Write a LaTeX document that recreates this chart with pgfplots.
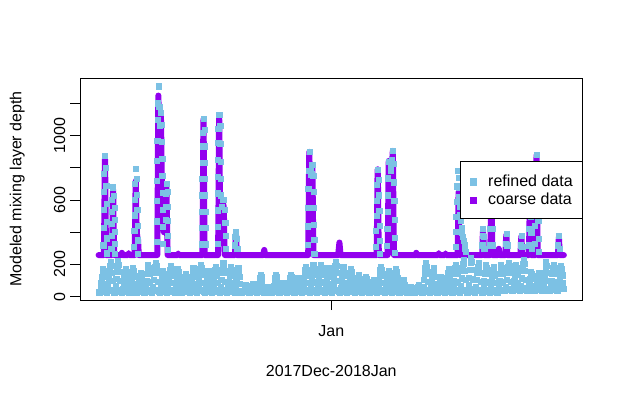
\documentclass[border=0pt]{standalone}
\usepackage{pgfplots}
\pgfplotsset{compat=1.18}
\usepackage{pgfplotstable}
\usepackage{fontspec}
\setmainfont{Liberation Sans}
\definecolor{rblue}{RGB}{124,193,228}
\definecolor{cpurple}{RGB}{146,0,238}

% refined data: one row per day, values at 0h,2h,...,22h
\pgfplotstableread{
day v0 v1 v2 v3 v4 v5 v6 v7 v8 v9 v10 v11
0 30 25 33 53 88 123 154 175 158 123 79 40
1 32 26 35 65 108 151 189 215 194 151 97 42
2 30 25 34 66 110 154 194 220 198 154 99 40
3 29 25 33 51 85 119 150 170 153 119 77 38
4 30 26 34 54 90 126 158 180 162 126 81 40
5 28 25 32 45 75 105 132 150 135 105 68 38
6 30 25 33 60 100 140 176 200 180 140 90 41
7 31 26 35 63 105 147 185 210 189 147 95 42
8 29 25 33 48 80 112 141 160 144 112 72 38
9 30 25 34 57 95 133 167 190 171 133 86 40
10 29 25 33 51 85 119 150 170 153 119 77 38
11 28 24 32 42 70 98 123 140 126 98 63 36
12 30 25 33 54 90 126 158 180 162 126 81 40
13 31 26 35 59 98 137 172 195 176 137 88 41
14 29 25 33 48 80 112 141 160 144 112 72 38
15 30 25 34 56 93 130 164 186 167 130 84 40
16 32 26 35 63 105 147 185 210 189 147 95 42
17 30 25 34 56 93 130 163 185 167 130 83 40
18 30 25 33 54 90 126 158 180 162 126 81 38
19 28 24 30 30 36 50 63 72 65 50 32 30
20 28 24 30 30 40 56 70 80 72 56 36 32
21 29 25 32 40 67 94 118 134 121 94 60 35
22 27 24 28 28 32 43 54 61 55 43 30 28
23 29 25 32 40 67 94 118 134 121 94 60 35
24 28 24 30 30 42 59 74 84 76 59 38 32
25 29 25 32 40 67 94 118 134 121 94 60 35
26 28 25 31 35 58 81 101 115 104 81 52 34
27 30 25 34 56 93 130 164 186 167 130 84 40
28 31 26 34 59 99 138 173 197 177 138 89 41
29 31 26 34 59 99 138 173 197 177 138 89 41
30 30 25 33 53 88 123 155 176 158 123 79 40
31 32 26 35 65 108 151 189 215 194 151 97 42
32 30 25 34 56 93 130 163 185 167 130 83 40
33 29 25 33 51 85 119 150 170 153 119 77 38
34 29 25 32 41 68 95 119 135 122 95 61 36
35 28 25 32 38 63 88 110 125 113 88 56 35
36 28 24 31 31 52 72 91 103 93 72 46 33
37 30 25 34 56 93 130 164 186 167 130 84 40
38 29 25 33 48 80 112 141 160 144 112 72 38
39 29 25 33 51 85 119 150 170 153 119 77 38
40 28 24 31 31 52 72 91 103 93 72 46 33
41 27 24 28 28 32 43 54 61 55 43 30 28
42 28 24 30 30 36 50 63 72 65 50 32 30
43 31 26 35 62 104 145 182 207 186 145 93 42
44 30 25 33 53 88 123 155 176 158 123 79 40
45 28 25 32 37 62 87 109 124 112 87 56 35
46 29 25 33 51 85 119 150 170 153 119 77 38
47 30 25 34 60 100 140 176 200 180 140 90 41
48 33 27 36 68 114 160 201 228 205 160 103 44
49 34 28 38 72 120 168 211 240 216 168 108 46
50 32 26 35 63 105 147 185 210 189 147 95 42
51 30 25 34 60 100 140 176 200 180 140 90 41
52 30 25 34 56 93 130 164 186 167 130 84 40
53 30 25 34 60 100 140 176 200 180 140 90 44
54 40 35 43 63 105 147 185 210 189 147 95 50
55 40 35 43 59 98 137 172 195 176 137 88 50
56 42 36 45 68 114 160 201 228 205 160 103 52
57 40 35 43 47 78 109 136 155 140 109 70 48
58 40 35 43 45 75 105 132 150 135 105 68 48
59 41 35 44 65 108 151 189 215 194 151 97 50
60 40 35 43 60 100 140 176 200 180 140 90 50
61 40 35 43 57 95 133 167 190 171 133 86 48
}\refined

\begin{document}
\begin{tikzpicture}[font=\fontsize{16}{19.2}\selectfont]
\path[use as bounding box] (0pt,0pt) rectangle (623pt,399pt);
\begin{axis}[
  at={(80pt,99pt)}, anchor=south west,
  width=502.5pt, height=222pt, scale only axis,
  xmin=-2.478, xmax=64.44, ymin=-21, ymax=1358,
  xtick={31}, xticklabels={Jan},
  ytick={0,200,400,600,800,1000,1200},
  yticklabels={0,200,{},600,{},1000,{}},
  tick pos=left, tick align=outside, major tick length=10pt,
  every tick/.style={black, line width=0.8pt},
  axis line style={line width=0.8pt},
  ticklabel style={font=\fontsize{16}{19.2}\selectfont},
  xticklabel style={anchor=base, yshift=-26.7pt},
  yticklabel style={xshift=-5pt, rotate=90, anchor=base},
  every axis x label/.style={at={(axis description cs:0.5,0)}, yshift=-76pt, anchor=base},
  every axis y label/.style={at={(axis description cs:0,0.5)}, xshift=-58.5pt, rotate=90, anchor=base},
  xlabel={2017Dec-2018Jan},
  ylabel={Modeled mixing layer depth},
  legend style={at={(1,0.6275)}, anchor=north east, draw=black, line width=0.8pt, fill=white,
    font=\fontsize{16}{19.2}\selectfont, inner xsep=9.4pt, inner ysep=13.7pt,
    row sep=6.6pt, column sep=11pt, cells={anchor=base west},
    nodes={inner sep=0pt, text height=11.7pt, text depth=0pt}},
]
\addlegendimage{legend image code/.code={\fill[rblue] (0pt,1pt) rectangle (6.7pt,7.7pt);}}
\addlegendentry{refined data}
\addlegendimage{legend image code/.code={\fill[cpurple] (0pt,1pt) rectangle (6.7pt,7.7pt);}}
\addlegendentry{coarse data}

\pgfplotsinvokeforeach{0,...,11}{
  \addplot[forget plot, only marks, color=rblue, mark=square*, mark size=2.6pt,
    mark options={solid, line width=0.4pt}]
    table[x expr={\thisrow{day}+#1/12}, y=v#1] {\refined};
}
% refined data during the peaks
\addplot[forget plot, only marks, color=rblue, mark=square*, mark size=2.6pt,
  mark options={solid, line width=0.4pt}] coordinates {
(0.60,320)(0.63,430)(0.66,541)(0.69,652)(0.72,763)(0.85,874)(0.99,800)(1.02,689)(1.04,578)(1.07,467)(1.10,363)(1.12,270)
(1.67,300)(1.70,376)(1.73,452)(1.76,528)(1.79,604)(1.92,680)(2.06,629)(2.09,553)(2.11,477)(2.14,401)(2.17,330)(2.19,266)
(4.70,312)(4.73,409)(4.76,506)(4.79,603)(4.82,700)(4.95,797)(5.09,732)(5.12,635)(5.14,538)(5.17,441)(5.20,350)(5.22,269)
(7.71,342)(7.73,468)(7.74,594)(7.76,720)(7.78,845)(7.80,971)(7.82,1097)(7.83,1202)(7.96,1307)(8.08,1180)(8.18,1060)(8.30,1140)
(8.43,1069)(8.44,964)(8.46,858)(8.48,752)(8.50,646)(8.52,540)(8.53,434)(8.55,329)
(8.90,480)(8.92,560)(8.94,640)(9.03,700)(9.16,650)(9.18,560)(9.20,470)(9.22,380)(9.25,290)
(13.72,326)(13.74,427)(13.75,528)(13.77,630)(13.79,731)(13.81,833)(13.83,934)(13.84,1019)(13.97,1103)
(14.10,1035)(14.11,934)(14.13,833)(14.15,731)(14.17,630)(14.19,528)(14.20,427)(14.22,326)
(15.81,328)(15.83,432)(15.84,537)(15.86,642)(15.88,746)(15.90,851)(15.92,956)(15.93,1043)(16.06,1130)
(16.19,1060)(16.20,950)(16.22,840)(16.24,730)(16.26,630)(16.40,560)(16.55,600)(16.70,600)(16.84,540)(16.86,460)(16.88,380)(16.91,300)
(18.15,320)(18.18,370)(18.29,400)(18.42,360)(18.45,300)
(27.81,322)(27.84,438)(27.87,553)(27.90,669)(27.93,784)(28.06,900)(28.20,780)(28.30,760)(28.45,820)
(28.59,752)(28.62,651)(28.64,550)(28.67,449)(28.70,354)(28.72,269)
(36.92,311)(36.95,407)(36.98,503)(37.01,598)(37.04,694)(37.17,790)(37.31,726)(37.34,630)(37.36,535)(37.39,439)(37.42,348)(37.44,269)
(38.39,316)(38.42,421)(38.45,526)(38.48,630)(38.51,735)(38.64,840)(38.85,780)(38.95,800)(39.00,850)(39.18,905)
(39.32,827)(39.35,711)(39.37,594)(39.40,478)(39.43,368)(39.45,271)
(47.55,310)(47.58,404)(47.61,498)(47.64,592)(47.67,686)(47.80,780)(47.94,740)(47.97,680)(48.02,620)(48.07,560)(48.12,510)(48.20,470)(48.30,430)(48.40,400)(48.50,370)(48.60,345)(48.70,320)(48.80,300)(48.90,280)
(51.07,320)(51.10,380)(51.20,420)(51.33,370)(51.36,300)
(52.12,320)(52.14,420)(52.16,520)(52.18,620)(52.30,680)(52.41,620)(52.43,520)(52.45,420)(52.47,320)
(54.18,330)(54.30,390)(54.42,320)
(56.18,320)(56.30,380)(56.42,310)
(57.27,320)(57.29,420)(57.31,520)(57.33,620)(57.45,660)(57.57,600)(57.59,500)(57.61,400)(57.63,300)
(58.07,330)(58.10,440)(58.13,550)(58.16,660)(58.19,770)(58.32,880)(58.46,800)(58.49,690)(58.51,580)(58.54,470)(58.57,360)(58.59,280)
(61.18,320)(61.30,380)(61.42,300)
};
% coarse data
\addplot[forget plot, color=cpurple, line width=6pt, line join=round, line cap=round] coordinates {
(0,258)(0.70,258)(0.77,528)(0.82,797)(0.85,857)(0.88,767)(0.93,498)(1.0,258)
(1.77,258)(1.84,442)(1.89,625)(1.92,666)(1.95,605)(2.0,421)(2.07,258)
(3.0,258)(3.1,272)(3.2,258)(3.9,258)(4.0,270)(4.1,258)
(4.80,258)(4.87,465)(4.92,672)(4.95,718)(4.98,650)(5.03,480)(5.12,380)(5.25,353)(5.35,258)
(7.81,258)(7.88,704)(7.93,1150)(7.96,1249)(8.0,1150)(8.08,1000)(8.2,1050)(8.3,1126)(8.34,1000)(8.42,700)(8.52,450)(8.7,400)(8.9,450)(8.98,640)(9.03,697)(9.06,620)(9.12,420)(9.2,258)
(10.5,258)(10.6,268)(10.7,258)
(13.82,258)(13.89,638)(13.94,1018)(13.97,1103)(14.0,976)(14.05,596)(14.12,258)
(15.91,258)(15.98,648)(16.03,1037)(16.06,1124)(16.09,994)(16.15,604)(16.3,520)(16.48,560)(16.62,572)(16.68,540)(16.75,330)(16.82,258)
(18.15,258)(18.24,350)(18.29,390)(18.34,340)(18.42,258)
(21.9,258)(22.06,290)(22.2,258)
(27.91,258)(27.98,546)(28.03,834)(28.06,899)(28.1,800)(28.2,700)(28.32,720)(28.41,800)(28.45,811)(28.49,740)(28.55,480)(28.62,258)
(31.9,258)(32.07,336)(32.22,258)
(37.02,258)(37.09,498)(37.14,738)(37.17,791)(37.2,711)(37.25,471)(37.32,258)
(38.49,258)(38.56,521)(38.61,785)(38.64,843)(38.68,780)(38.8,720)(38.97,750)(39.12,860)(39.18,905)(39.21,810)(39.26,520)(39.33,258)
(42.2,258)(42.3,272)(42.4,258)
(45.2,258)(45.3,270)(45.4,258)
(46.1,258)(46.2,268)(46.3,258)
(47.8,258)(47.87,435)(47.92,610)(47.95,650)(47.98,590)(48.03,415)(48.1,258)
(51.08,258)(51.15,370)(51.2,415)(51.25,360)(51.32,258)
(52.15,258)(52.22,440)(52.27,620)(52.3,660)(52.33,600)(52.38,420)(52.45,258)
(53.15,258)(53.3,297)(53.42,258)
(54.18,258)(54.25,350)(54.3,384)(54.35,340)(54.42,258)
(56.18,258)(56.25,340)(56.3,374)(56.35,330)(56.42,258)
(57.3,258)(57.37,430)(57.42,600)(57.45,640)(57.48,580)(57.53,410)(57.6,258)
(58.17,258)(58.24,537)(58.29,816)(58.32,878)(58.35,785)(58.4,506)(58.47,258)
(61.18,258)(61.25,340)(61.3,370)(61.35,320)(61.42,258)(61.96,258)
};
\end{axis}
\end{tikzpicture}
\end{document}
